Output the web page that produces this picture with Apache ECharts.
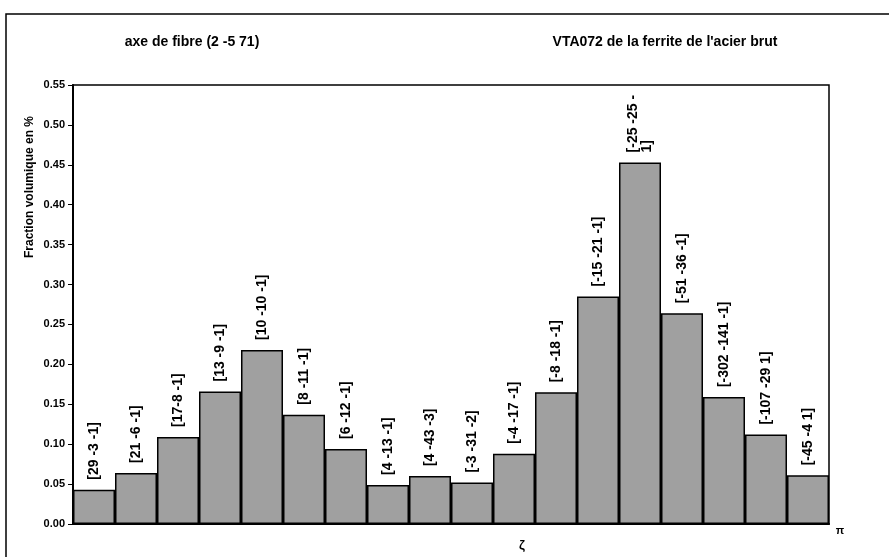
<!DOCTYPE html>
<html>
<head>
<meta charset="utf-8">
<script src="https://cdn.jsdelivr.net/npm/echarts@6/dist/echarts.min.js"></script>
<style>html,body{margin:0;padding:0;background:#fff}#c{width:889px;height:557px}</style>
</head>
<body>
<div id="c"></div>
<script>
const categories = ['[29 -3 -1]','[21 -6 -1]','[17-8 -1]','[13 -9 -1]','[10 -10 -1]','[8 -11 -1]','[6 -12 -1]','[4 -13 -1]','[4 -43 -3]','[-3 -31 -2]','[-4 -17 -1]','[-8 -18 -1]','[-15 -21 -1]','[-25 -25 -\n1]','[-51 -36 -1]','[-302 -141 -1]','[-107 -29 1]','[-45 -4 1]'];
const values = [0.043,0.064,0.109,0.166,0.218,0.137,0.094,0.049,0.060,0.052,0.088,0.165,0.285,0.453,0.264,0.159,0.112,0.061];
const yTicks = [0,0.05,0.10,0.15,0.20,0.25,0.30,0.35,0.40,0.45,0.50,0.55];
const titleLeft = 'axe de fibre (2 -5 71)';
const titleRight = "VTA072 de la ferrite de l'acier brut";
const yName = 'Fraction volumique en %';

const chart = echarts.init(document.getElementById('c'), null, {renderer:'canvas'});
const F = 'Liberation Sans, Arial, sans-serif';
chart.setOption({
  animation:false,
  backgroundColor:'#fff',
  grid:{left:73,right:60,top:85,bottom:33,show:true,borderColor:'#000',borderWidth:1.5,backgroundColor:'transparent'},
  xAxis:{type:'category',data:categories,
    axisLine:{lineStyle:{color:'#000',width:2}},axisTick:{show:false},axisLabel:{show:false}},
  yAxis:{type:'value',min:0,max:0.55,interval:0.05,
    axisLine:{show:true,lineStyle:{color:'#000',width:2}},
    axisTick:{show:true,length:5,lineStyle:{color:'#000',width:1}},
    splitLine:{show:false},
    axisLabel:{color:'#000',fontFamily:F,fontWeight:'bold',fontSize:11,margin:8,
      formatter:v=>{const t=yTicks.find(x=>Math.abs(x-v)<1e-9);return (t!==undefined?t:v).toFixed(2);}}},
  series:[{type:'bar',data:values,barCategoryGap:'0%',
    itemStyle:{color:'#a0a0a0',borderColor:'#000',borderWidth:1.5},
    label:{show:true,position:'top',rotate:90,align:'left',verticalAlign:'middle',distance:10,
      formatter:p=>categories[p.dataIndex],
      color:'#000',fontFamily:F,fontWeight:'bold',fontSize:14,lineHeight:14}}],
  graphic:[
    {type:'rect',shape:{x:6,y:14,width:900,height:560},style:{fill:'none',stroke:'#000',lineWidth:1.5},silent:true},
    {type:'text',x:192,y:42,style:{text:titleLeft,font:'bold 14px '+F,fill:'#000',align:'center',verticalAlign:'middle'}},
    {type:'text',x:665,y:42,style:{text:titleRight,font:'bold 14px '+F,fill:'#000',align:'center',verticalAlign:'middle'}},
    {type:'text',x:30,y:187,rotation:Math.PI/2,style:{text:yName,font:'bold 12px '+F,fill:'#000',align:'center',verticalAlign:'middle'}},
    {type:'text',x:522,y:545,style:{text:'ζ',font:'bold 13px '+F,fill:'#000',align:'center',verticalAlign:'middle'}},
    {type:'text',x:840,y:531,style:{text:'π',font:'bold 11px '+F,fill:'#000',align:'center',verticalAlign:'middle'}}
  ]
});
</script>
</body>
</html>
